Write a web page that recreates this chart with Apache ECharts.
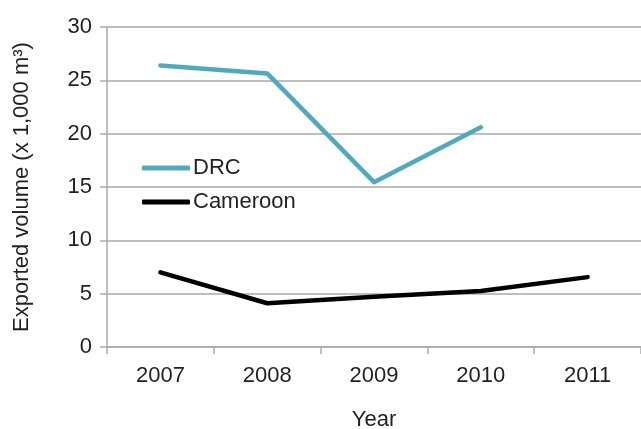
<!DOCTYPE html>
<html><head><meta charset="utf-8">
<script src="https://cdn.jsdelivr.net/npm/echarts@6/dist/echarts.min.js"></script>
<style>html,body{margin:0;padding:0;background:#fff}#c{width:641px;height:429px}</style>
</head><body><div id="c"></div>
<script>
const years = ['2007','2008','2009','2010','2011'];
const drc = [26.4, 25.65, 15.45, 20.6, null];
const cameroon = [7.0, 4.1, 4.7, 5.25, 6.55];
const yTicks = {min: 0, max: 30, interval: 5};

const font = '"Liberation Sans", Arial, Helvetica, sans-serif';
const txt = '#231f20';
const grey = '#aaaaaa';
const chart = echarts.init(document.getElementById('c'));
chart.setOption({
  animation: false,
  textStyle: {fontFamily: font},
  grid: {left: 107, right: 0, top: 27, bottom: 82, containLabel: false, outerBoundsMode: 'none'},
  legend: {
    orient: 'vertical', left: 137, top: 152, itemGap: 12,
    itemWidth: 48, itemHeight: 5, icon: 'roundRect',
    textStyle: {fontFamily: font, fontSize: 22, color: txt, padding: [0,0,0,-2]},
    data: ['DRC', 'Cameroon']
  },
  xAxis: {
    type: 'category', data: years, boundaryGap: true,
    name: 'Year', nameLocation: 'middle', nameGap: 62,
    nameTextStyle: {fontFamily: font, fontSize: 22, color: txt},
    axisLine: {lineStyle: {color: grey, width: 1.5}},
    axisTick: {show: true, length: 7, lineStyle: {color: grey, width: 1.5}},
    axisLabel: {fontFamily: font, fontSize: 22, color: txt, margin: 18},
    splitLine: {show: false}
  },
  yAxis: {
    type: 'value', min: yTicks.min, max: yTicks.max, interval: yTicks.interval,
    name: 'Exported volume (x 1,000 m³)', nameLocation: 'middle', nameGap: 74,
    nameTextStyle: {fontFamily: font, fontSize: 22, color: txt},
    axisLine: {show: true, lineStyle: {color: grey, width: 1.5}},
    axisTick: {show: true, length: 7, lineStyle: {color: grey, width: 1.5}},
    axisLabel: {fontFamily: font, fontSize: 22, color: txt, margin: 15},
    splitLine: {show: true, lineStyle: {color: grey, width: 1.5}}
  },
  series: [
    {name: 'DRC', type: 'line', data: drc, symbol: 'none',
     lineStyle: {color: '#4fa9c1', width: 4.5, cap: 'round', join: 'round'},
     itemStyle: {color: '#4fa9c1'}},
    {name: 'Cameroon', type: 'line', data: cameroon, symbol: 'none',
     lineStyle: {color: '#000000', width: 4.5, cap: 'round', join: 'round'},
     itemStyle: {color: '#000000'}}
  ]
});
</script></body></html>
